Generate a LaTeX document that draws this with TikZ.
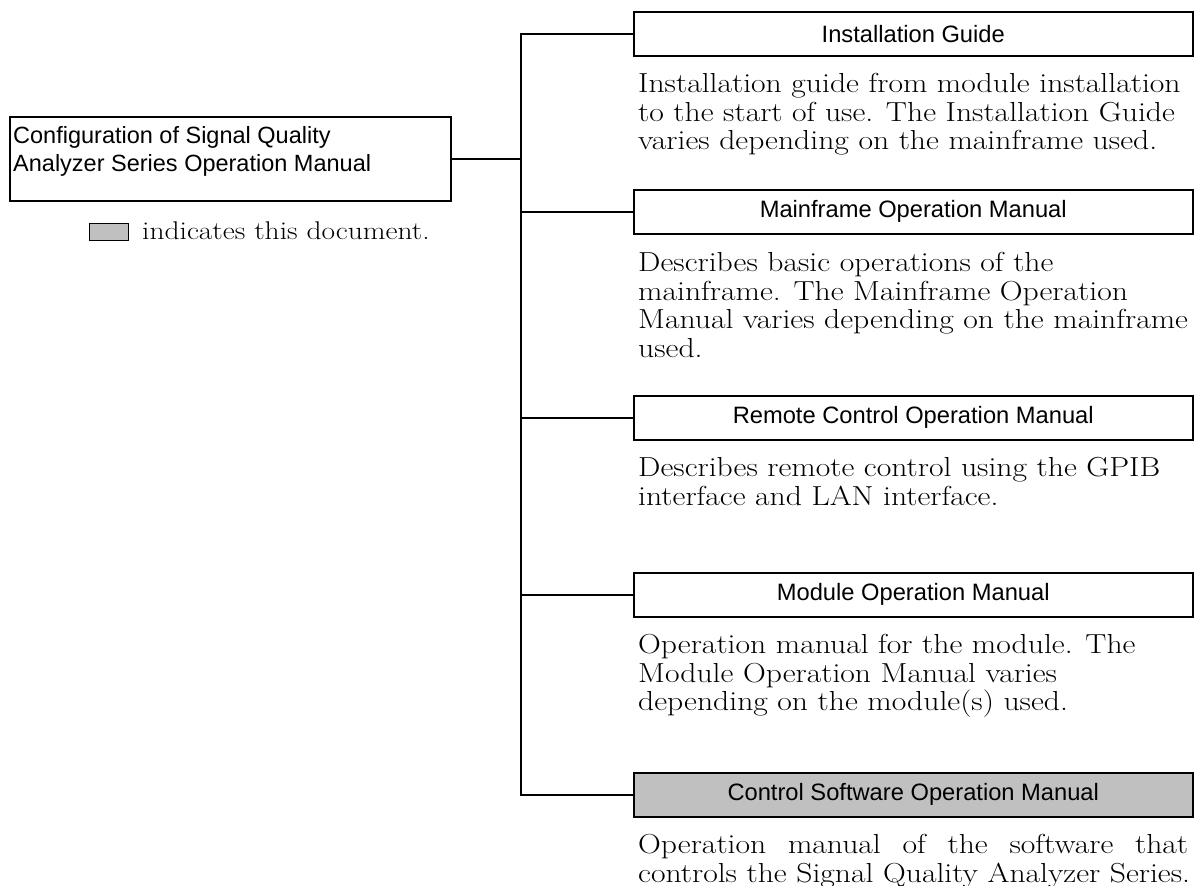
\documentclass[tikz,border=0pt]{standalone}
\usepackage{fontspec}
\setmainfont{Latin Modern Roman}[FakeStretch=1.15]
\newfontfamily\sansfont{Liberation Sans}
\definecolor{boxgrey}{HTML}{C0C0C0}
\tikzset{
  manual/.style={draw, line width=1.5pt, minimum width=559pt, minimum height=44pt,
    anchor=north west, inner sep=0pt, font=\sansfont\fontsize{23.7}{28}\selectfont},
  thisdoc/.style={manual, fill=boxgrey},
  desc/.style={anchor=north west, inner sep=0pt, align=left,
    font=\fontsize{27.5}{28.6}\selectfont},
  conn/.style={line width=2.2pt},
}
\begin{document}
\begin{tikzpicture}[x=1pt,y=-1pt]
\useasboundingbox (0,0) rectangle (1197,886);

% root box
\node[draw, line width=1.5pt, minimum width=441pt, minimum height=84pt,
      anchor=north west, inner sep=0pt] (root) at (9,116) {};
\node[anchor=north west, inner sep=0pt, align=left,
      font=\sansfont\fontsize{23.5}{28.5}\selectfont] (roottext) at (13,126)
  {Configuration of Signal Quality\\Analyzer Series Operation Manual};

% legend
\node[draw, fill=boxgrey, line width=1.2pt, minimum width=39pt, minimum height=17pt,
      anchor=north west, inner sep=0pt] (legbox) at (89,223) {};
\node[anchor=base west, inner sep=0pt, font=\fontsize{25.6}{28.5}\selectfont]
  (legtext) at (142,239) {indicates this document.};

% manual boxes
\node[manual]  (ig) at (633,11)  {Installation Guide};
\node[manual]  (mf) at (633,189) {Mainframe Operation Manual};
\node[manual]  (rc) at (633,395) {Remote Control Operation Manual};
\node[manual]  (mo) at (633,572) {Module Operation Manual};
\node[thisdoc] (cs) at (633,772) {Control Software Operation Manual};

% descriptions
\node[desc] (igd) at (638,73)
  {Installation guide from module installation\\to the start of use. The Installation Guide\\varies depending on the mainframe used.};
\node[desc] (mfd) at (638,252)
  {Describes basic operations of the\\mainframe. The Mainframe Operation\\Manual varies depending on the mainframe\\used.};
\node[desc] (rcd) at (638,457)
  {Describes remote control using the GPIB\\interface and LAN interface.};
\node[desc] (mod) at (638,634)
  {Operation manual for the module. The\\Module Operation Manual varies\\depending on the module(s) used.};
\node[desc] (csd) at (638,834)
  {\makebox[550pt][s]{Operation manual of the software that}\\controls the Signal Quality Analyzer Series.};

% tree connectors
\coordinate (trunk) at (521,33);
\draw[conn] (ig.west) -- (ig.west -| trunk) -- (cs.west -| trunk) -- (cs.west);
\draw[conn] (mf.west) -- (mf.west -| trunk);
\draw[conn] (rc.west) -- (rc.west -| trunk);
\draw[conn] (mo.west) -- (mo.west -| trunk);
\draw[conn] (root.east) -- (root.east -| trunk);
\end{tikzpicture}
\end{document}
